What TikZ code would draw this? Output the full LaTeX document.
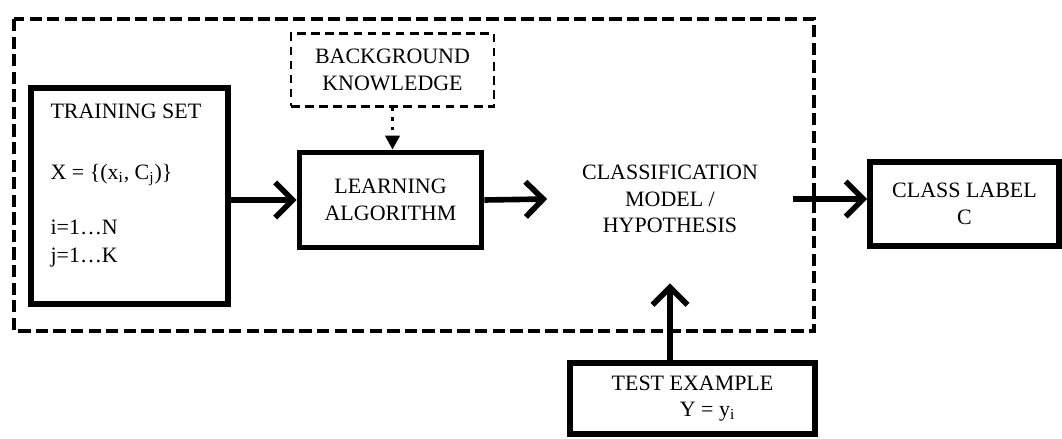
\documentclass[tikz,border=0pt]{standalone}
\usepackage{fontspec}
\setmainfont{Liberation Serif}
\usetikzlibrary{arrows.meta}

\begin{document}
\begin{tikzpicture}[x=0.02cm, y=-0.02cm,
    every node/.style={font=\fontsize{12.5}{15}\selectfont},
    solidbox/.style={draw, line width=3.2pt, align=center},
    bgbox/.style={draw, line width=1.2pt, dash pattern=on 5pt off 3pt, align=center},
    flow/.style={line width=3.2pt, -{Straight Barb[length=10pt, width=20pt]}},
    hint/.style={line width=2pt, dash pattern=on 2pt off 3.5pt, -{Triangle[length=8pt, width=8pt]}}]
      \useasboundingbox (0, 0) rectangle (1062, 439);
      \draw [line width=2.6pt, dash pattern=on 7pt off 3pt] (14, 19) rectangle (814, 331);
      \node [solidbox, minimum width=3.94cm, minimum height=4.32cm] (train) at (129.5, 196) {};
      \node [anchor=north west, inner sep=0pt, align=left] (traintext) at ([xshift=0.44cm, yshift=-0.36cm] train.north west)
        {TRAINING SET\\[20pt] X = \{(x\textsubscript{i}, C\textsubscript{j})\}\\[16pt] i=1…N\\[1pt] j=1…K};
      \node [bgbox, minimum width=4.06cm, minimum height=1.46cm] (bg) at (392.5, 70) {BACKGROUND\\KNOWLEDGE};
      \node [solidbox, minimum width=3.64cm, minimum height=1.9cm] (learn) at (390.5, 200) {LEARNING\\ALGORITHM};
      \node [align=center, minimum width=4.9cm, minimum height=3.36cm] (model) at (670, 199) {CLASSIFICATION\\MODEL /\\HYPOTHESIS};
      \node [solidbox, minimum width=3.78cm, minimum height=1.68cm] (label) at (964.5, 204) {CLASS LABEL\\C};
      \node [solidbox, minimum width=4.9cm, minimum height=1.42cm] (test) at (692.5, 398.5) {TEST EXAMPLE\\\hspace*{0.6cm}Y = y\textsubscript{i}};
      \draw [flow] (train.east |- learn.west) -- (learn.west);
      \draw [flow] (learn.east) -- (model.west);
      \draw [flow] (model.east) -- (model.east -| label.west);
      \draw [flow] (test.north -| model.south) -- (model.south);
      \draw [hint] (bg.south) -- (bg.south |- learn.north);
    \end{tikzpicture}
\end{document}
